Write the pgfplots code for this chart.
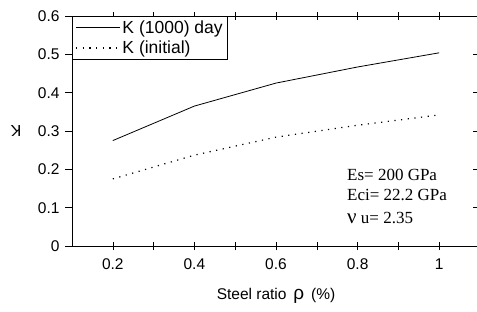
\documentclass[border=0pt]{standalone}
\usepackage{fontspec}
\setmainfont{Liberation Sans}
\newfontfamily\timesf{Liberation Serif}
\usepackage{pgfplots}
\pgfplotsset{compat=1.18}
\begin{document}
\begin{tikzpicture}
\useasboundingbox (-72bp,-66bp) rectangle (405bp,246bp);
\begin{axis}[
  scale only axis,
  width=408bp, height=230bp,
  xmin=0.1, xmax=1.1, ymin=0, ymax=0.6,
  xtick={0.2,0.4,0.6,0.8,1.0},
  xticklabels={0.2,0.4,0.6,0.8,1},
  minor xtick={0.3,0.5,0.7,0.9},
  ytick={0,0.1,0.2,0.3,0.4,0.5,0.6},
  yticklabels={0,0.1,0.2,0.3,0.4,0.5,0.6},
  /pgf/number format/assume math mode=true,
  tick align=center,
  major tick length=8bp, minor tick length=8bp,
  ytick style={xshift=-3bp, black, line width=0.6bp},
  xtick style={black, line width=0.6bp},
  minor tick style={black, line width=0.6bp},
  ticklabel style={font=\fontsize{15.5bp}{18bp}\selectfont},
  yticklabel style={xshift=-5bp},
  xticklabel style={yshift=-5bp},
  axis line style={black, line width=0.9bp},
  xlabel={Steel ratio \,{\fontsize{19bp}{19bp}\selectfont ρ}\, (\%)},
  ylabel={K},
  xlabel style={at={(axis description cs:0.5,0)}, anchor=center, yshift=-50bp, font=\fontsize{15.5bp}{18bp}\selectfont},
  ylabel style={at={(axis description cs:-0.137,0.5)}, anchor=center, rotate=0, font=\fontsize{16bp}{18bp}\selectfont},
  every axis y label/.append style={rotate=90},
  legend style={at={(0,1)}, anchor=north west, draw=black, line width=0.6bp,
    font=\fontsize{17.5bp}{20bp}\selectfont, inner xsep=3bp, inner ysep=2.5bp,
    row sep=2bp, cells={anchor=west}},
  legend image code/.code={\draw[#1] (0bp,0bp) -- (44bp,0bp);},
  clip=false,
]
\addplot[black, line width=0.8bp] coordinates {
  (0.2,0.275) (0.4,0.365) (0.6,0.425) (0.8,0.467) (1.0,0.504)
};
\addlegendentry{K (1000) day}
\addplot[black, line width=1.2bp, dash pattern=on 1.2bp off 5.5bp] coordinates {
  (0.2,0.175) (0.4,0.237) (0.6,0.284) (0.8,0.315) (1.0,0.342)
};
\addlegendentry{K (initial)}
\node[anchor=base west, inner sep=0pt, font=\timesf\fontsize{17bp}{18bp}\selectfont] at (axis cs:0.774,0.170) {Es= 200 GPa};
\node[anchor=base west, inner sep=0pt, font=\timesf\fontsize{17bp}{18bp}\selectfont] at (axis cs:0.774,0.120) {Eci= 22.2 GPa};
\node[anchor=base west, inner sep=0pt, font=\timesf\fontsize{17bp}{18bp}\selectfont] at (axis cs:0.774,0.060) {{\fontsize{21bp}{21bp}\selectfont ν}\ u= 2.35};
\end{axis}
\end{tikzpicture}
\end{document}
